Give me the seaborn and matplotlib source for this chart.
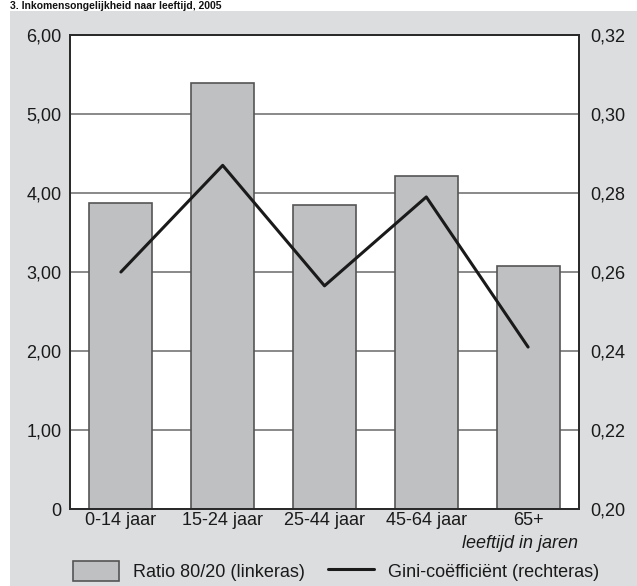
import matplotlib
matplotlib.use("Agg")
import matplotlib.pyplot as plt
from matplotlib.patches import Rectangle, Patch
from matplotlib.lines import Line2D
import seaborn as sns
import pandas as pd

leeftijd = ["0-14 jaar", "15-24 jaar", "25-44 jaar", "45-64 jaar", "65+"]
ratio_80_20 = [3.87, 5.39, 3.85, 4.21, 3.08]
gini = [0.260, 0.287, 0.2565, 0.279, 0.241]
left_ticks = [0, 1, 2, 3, 4, 5, 6]
left_labels = ["0", "1,00", "2,00", "3,00", "4,00", "5,00", "6,00"]
right_ticks = [0.20, 0.22, 0.24, 0.26, 0.28, 0.30, 0.32]
right_labels = ["0,20", "0,22", "0,24", "0,26", "0,28", "0,30", "0,32"]

df = pd.DataFrame({"leeftijd": leeftijd, "ratio": ratio_80_20, "gini": gini})

sns.set_style("white")
plt.rcParams["font.family"] = ["Liberation Sans", "DejaVu Sans"]

W, H = 637, 586
fig = plt.figure(figsize=(W / 100, H / 100), dpi=100)
bg = "#dcdddf"
fig.patches.append(Rectangle((10 / W, 0), 1 - 10 / W, 1 - 11 / H, transform=fig.transFigure,
                             facecolor=bg, edgecolor="none", zorder=-10))
# title: only a thin strip above the grey panel
fig.text(10 / W, 1 - 1 / H, "3. Inkomensongelijkheid naar leeftijd, 2005", fontsize=7.5,
         fontweight="bold", ha="left", va="top", color="#111")

ax = fig.add_axes([70 / W, 1 - 509 / H, (579 - 70) / W, (509 - 35) / H])
ax.set_facecolor("white")
sns.barplot(data=df, x="leeftijd", y="ratio", ax=ax, color="#bfc0c2", width=0.62,
            edgecolor="#555555", linewidth=1.2, saturation=1)
ax.set_xlim(-0.5, 4.5)
ax.set_ylim(0, 6)
ax.set_yticks(left_ticks)
ax.set_yticklabels(left_labels)
ax.yaxis.grid(True, color="#808080", linewidth=1.3)
ax.set_axisbelow(True)
ax.set_xlabel("")
ax.set_ylabel("")
ax.tick_params(axis="both", length=0, labelsize=13, colors="#1a1a1a", pad=6)
ax.tick_params(axis="x", pad=2)
for s in ax.spines.values():
    s.set_color("#2a2a2a")
    s.set_linewidth(1.3)

ax2 = ax.twinx()
sns.lineplot(data=df, x="leeftijd", y="gini", ax=ax2, color="#1a1a1a", linewidth=2.2, sort=False)
ax2.set_ylim(0.20, 0.32)
ax2.set_yticks(right_ticks)
ax2.set_yticklabels(right_labels)
ax2.set_ylabel("")
ax2.set_xlim(-0.5, 4.5)
ax2.tick_params(axis="y", length=0, labelsize=13, colors="#1a1a1a", pad=8)
for s in ax2.spines.values():
    s.set_color("#2a2a2a")
    s.set_linewidth(1.3)

fig.text(578 / W, 1 - 543 / H, "leeftijd in jaren", fontsize=13, style="italic",
         ha="right", va="center", color="#1a1a1a")

handles = [Patch(facecolor="#bfc0c2", edgecolor="#555555", linewidth=1.2),
           Line2D([], [], color="#1a1a1a", linewidth=2.2)]
fig.legend(handles, ["Ratio 80/20 (linkeras)", "Gini-coëfficiënt (rechteras)"],
           loc="center", bbox_to_anchor=(336 / W, 1 - 571 / H), ncol=2, frameon=False,
           fontsize=13, handlelength=2.55, handleheight=1.3, handletextpad=0.75,
           columnspacing=1.3, labelcolor="#1a1a1a", borderpad=0)

fig.savefig("out.png", dpi=100)
